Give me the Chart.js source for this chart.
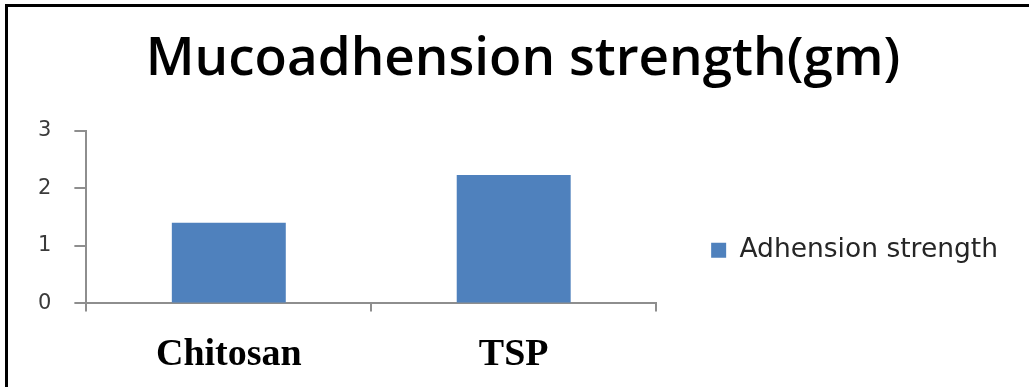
<!DOCTYPE html>
<html>
<head>
<meta charset="utf-8">
<title>Mucoadhension strength</title>
<script src="https://cdn.jsdelivr.net/npm/chart.js@4.4.0/dist/chart.umd.min.js"></script>
<style>
  html, body { margin: 0; padding: 0; background: #fff; }
  #wrap { position: relative; width: 1029px; height: 387px; overflow: hidden; }
  /* frame lines around the figure (only top and left fit in view) */
  #frame {
    position: absolute; left: 5px; top: 4px;
    width: 1100px; height: 500px;
    border-left: 3px solid #000; border-top: 3px solid #000;
  }
  #chart { position: absolute; left: 0; top: 0; }
</style>
</head>
<body>
<div id="wrap">
  <div id="frame"></div>
  <canvas id="chart" width="1029" height="400"></canvas>
</div>
<script>
// data
const categories = ['Chitosan', 'TSP'];
const seriesName = 'Adhension strength';
const strengthValues = [1.4, 2.23];
const yTicks = [0, 1, 2, 3];

const barColor = '#4f81bd';
const axisColor = '#8e8e8e';

const ctx = document.getElementById('chart').getContext('2d');
const chart = new Chart(ctx, {
    type: 'bar',
    data: {
        labels: categories,
        datasets: [{
            label: seriesName,
            data: strengthValues,
            backgroundColor: barColor,
            borderWidth: 0,
            categoryPercentage: 1,
            barPercentage: 0.4
        }]
    },
    options: {
        responsive: false,
        animation: false,
        layout: {
            // canvas is a bit taller than the visible box; the bottom strip is cut off
            padding: { left: 38, right: 21, top: 0, bottom: 1 }
        },
        scales: {
            x: {
                grid: {
                    display: true,
                    drawOnChartArea: false,
                    drawTicks: true,
                    tickLength: 8,
                    color: axisColor,
                    lineWidth: 2
                },
                border: { display: true, color: axisColor, width: 2 },
                ticks: {
                    padding: 21,
                    color: '#000',
                    font: { family: '"Liberation Serif", "Times New Roman", serif', size: 38, weight: 'bold' }
                }
            },
            y: {
                min: 0,
                max: 3,
                afterBuildTicks: axis => { axis.ticks = yTicks.map(v => ({ value: v })); },
                grid: {
                    display: true,
                    drawOnChartArea: false,
                    drawTicks: true,
                    tickLength: 12,
                    color: axisColor,
                    lineWidth: 2
                },
                border: { display: true, color: axisColor, width: 2 },
                ticks: {
                    padding: 11.5,
                    crossAlign: 'far',
                    color: '#3a3a3a',
                    font: { family: '"DejaVu Sans", Verdana, sans-serif', size: 21 }
                }
            }
        },
        plugins: {
            title: {
                display: true,
                text: 'Mucoadhension strength(gm)',
                color: '#000',
                font: { family: '"Open Sans", sans-serif', size: 53, weight: '600' },
                padding: { top: 28, bottom: 39 }
            },
            legend: {
                position: 'right',
                align: 'center',
                fullSize: false,
                maxWidth: 420,
                // empty title only pushes the key down a little
                title: { display: true, text: '', padding: { top: 0, bottom: 52 } },
                labels: {
                    boxWidth: 15,
                    boxHeight: 15,
                    padding: 55,
                    color: '#262626',
                    font: { family: '"DejaVu Sans", Verdana, sans-serif', size: 26.5 }
                }
            },
            tooltip: { enabled: false }
        }
    }
});
</script>
</body>
</html>
